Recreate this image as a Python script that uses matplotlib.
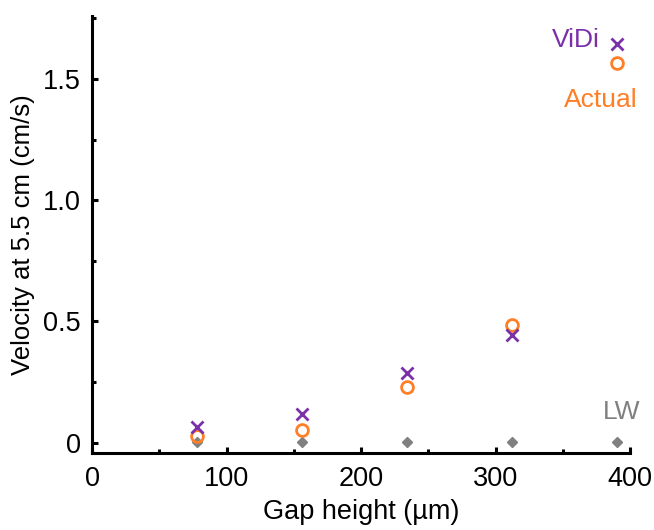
import matplotlib
matplotlib.use("Agg")
import matplotlib.pyplot as plt
from matplotlib.ticker import MultipleLocator

plt.rcParams['font.family'] = ['Liberation Sans', 'DejaVu Sans']

gap = [78, 156, 234, 312, 390]
vidi = [0.065, 0.118, 0.287, 0.443, 1.643]
actual = [0.027, 0.052, 0.229, 0.485, 1.565]
lw = [0.004, 0.004, 0.004, 0.004, 0.004]

xticks = [0, 100, 200, 300, 400]
yticks = [0, 0.5, 1.0, 1.5]
yticklabels = ['0', '0.5', '1.0', '1.5']

purple = '#7B2FA8'
orange = '#FF7F27'
gray = '#808080'

fig = plt.figure(figsize=(6.54, 5.30), dpi=100)
ax = fig.add_axes([0.1407, 0.1453, 0.8226, 0.8245])
ax.plot(gap, lw, linestyle='none', marker='D', ms=5, color=gray, mec=gray)
ax.plot(gap, actual, linestyle='none', marker='o', ms=8.5, mfc='none', mec=orange, mew=2)
ax.plot(gap, vidi, linestyle='none', marker='x', ms=8.5, color=purple, mew=2)
ax.set_xlim(0, 400)
ax.set_ylim(-0.043, 1.76)
ax.set_xticks(xticks)
ax.set_xticklabels([str(t) for t in xticks])
ax.set_yticks(yticks)
ax.set_yticklabels(yticklabels)
ax.xaxis.set_minor_locator(MultipleLocator(50))
ax.yaxis.set_minor_locator(MultipleLocator(0.25))
for s in ['top', 'right']:
    ax.spines[s].set_visible(False)
for s in ['left', 'bottom']:
    ax.spines[s].set_linewidth(2.2)
ax.tick_params(which='both', direction='in', width=2.2, labelsize=19.5)
ax.tick_params(axis='x', which='both', pad=9.5)
ax.tick_params(axis='y', which='both', pad=8)
ax.tick_params(which='major', length=4)
ax.tick_params(which='minor', length=3)
ax.set_xlabel('Gap height (µm)', fontsize=19.5, labelpad=5)
ax.set_ylabel('Velocity at 5.5 cm (cm/s)', fontsize=18.5, labelpad=6)

W, H = 654, 530
fig.text(600 / W, 1 - 40 / H, 'ViDi', color=purple, fontsize=19, ha='right', va='center')
fig.text(638 / W, 1 - 100 / H, 'Actual', color=orange, fontsize=19, ha='right', va='center')
fig.text(640 / W, 1 - 412 / H, 'LW', color=gray, fontsize=19, ha='right', va='center')

fig.savefig('out.png', dpi=100)
